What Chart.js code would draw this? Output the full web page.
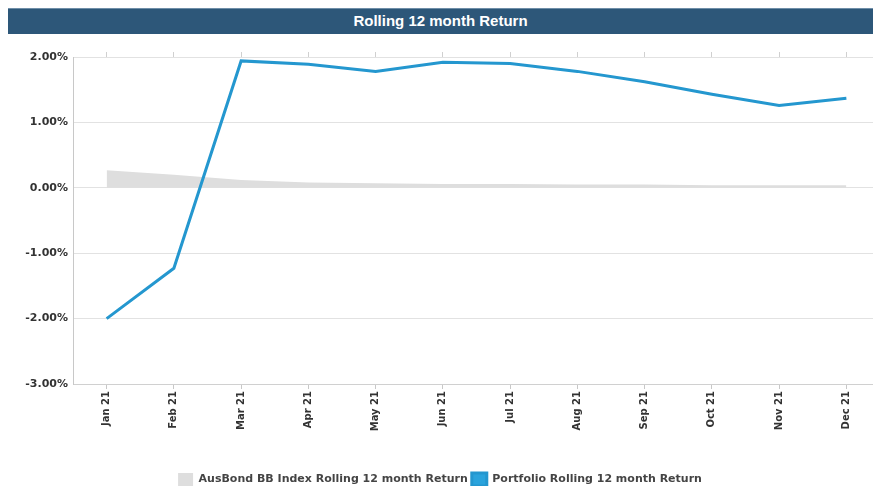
<!DOCTYPE html>
<html>
<head>
<meta charset="utf-8">
<style>
    html, body { margin: 0; padding: 0; background: #fff; overflow: hidden; }
    #title-bar {
        position: absolute; left: 8px; top: 8px; width: 865px; height: 25px;
        background: #2d5779; border-top: 1px solid #6f8ea8;
        color: #fff; font: bold 15px 'Liberation Sans', Arial, sans-serif;
        text-align: center; line-height: 24px;
    }
    #chart-wrapper { position: absolute; left: 0; top: 0; width: 880px; height: 496px; }
</style>
</head>
<body>
<div id="title-bar">Rolling 12 month Return</div>
<div id="chart-wrapper">
    <canvas id="returnChart"></canvas>
</div>
<script src="https://cdn.jsdelivr.net/npm/chart.js"></script>
<script>
    const months = ['Jan 21', 'Feb 21', 'Mar 21', 'Apr 21', 'May 21', 'Jun 21', 'Jul 21', 'Aug 21', 'Sep 21', 'Oct 21', 'Nov 21', 'Dec 21'];
    const portfolioReturn = [-2.00, -1.23, 1.94, 1.89, 1.78, 1.92, 1.90, 1.78, 1.62, 1.43, 1.26, 1.37];
    const benchmarkReturn = [0.27, 0.20, 0.12, 0.08, 0.07, 0.06, 0.06, 0.05, 0.05, 0.04, 0.04, 0.04];
    const yTicks = [-3, -2, -1, 0, 1, 2];

    const axisFont = { family: "'DejaVu Sans', Verdana, sans-serif", weight: 'bold' };

    new Chart(document.getElementById('returnChart'), {
        type: 'line',
        data: {
            labels: months,
            datasets: [{
                label: 'AusBond BB Index Rolling 12 month Return',
                data: benchmarkReturn,
                fill: 'origin',
                backgroundColor: '#dedede',
                borderColor: '#dedede',
                borderWidth: 0,
                pointRadius: 0,
                tension: 0,
                order: 2
            }, {
                label: 'Portfolio Rolling 12 month Return',
                data: portfolioReturn,
                fill: false,
                backgroundColor: '#2aa3dc',
                borderColor: '#2497cf',
                borderWidth: 3,
                pointRadius: 0,
                tension: 0,
                order: 1
            }]
        },
        options: {
            responsive: true,
            maintainAspectRatio: false,
            animation: false,
            layout: { padding: { top: 52, left: 0, right: 0, bottom: 0 } },
            plugins: {
                tooltip: { enabled: false },
                legend: {
                    position: 'bottom',
                    labels: {
                        boxWidth: 15,
                        boxHeight: 13,
                        padding: 4,
                        color: '#444',
                        font: { ...axisFont, size: 11 },
                        // keep legend in dataset order, not draw order
                        sort: function(a, b) { return a.datasetIndex - b.datasetIndex; }
                    }
                }
            },
            scales: {
                x: {
                    offset: true,
                    afterFit: function(scale) { scale.height = 85; },
                    grid: { drawOnChartArea: false, drawTicks: true, tickLength: 5, color: '#c8c8c8' },
                    border: { color: '#d0d0d0' },
                    ticks: {
                        minRotation: 90,
                        maxRotation: 90,
                        padding: 2,
                        color: '#333',
                        font: { ...axisFont, size: 10 }
                    }
                },
                xTop: {
                    position: 'top',
                    offset: true,
                    grid: { drawOnChartArea: false, drawTicks: true, tickLength: 5, color: '#d0d0d0' },
                    border: { display: false },
                    ticks: { display: false }
                },
                y: {
                    min: -3,
                    max: 2,
                    afterFit: function(scale) { scale.width = 73; },
                    afterBuildTicks: function(scale) {
                        scale.ticks = yTicks.map(v => ({ value: v }));
                    },
                    grid: { color: '#e2e2e2', drawTicks: false },
                    border: { color: '#c8c8c8' },
                    ticks: {
                        padding: 5,
                        color: '#333',
                        font: { ...axisFont, size: 11 },
                        callback: function(value) { return value.toFixed(2) + '%'; }
                    }
                }
            }
        }
    });
</script>
</body>
</html>
